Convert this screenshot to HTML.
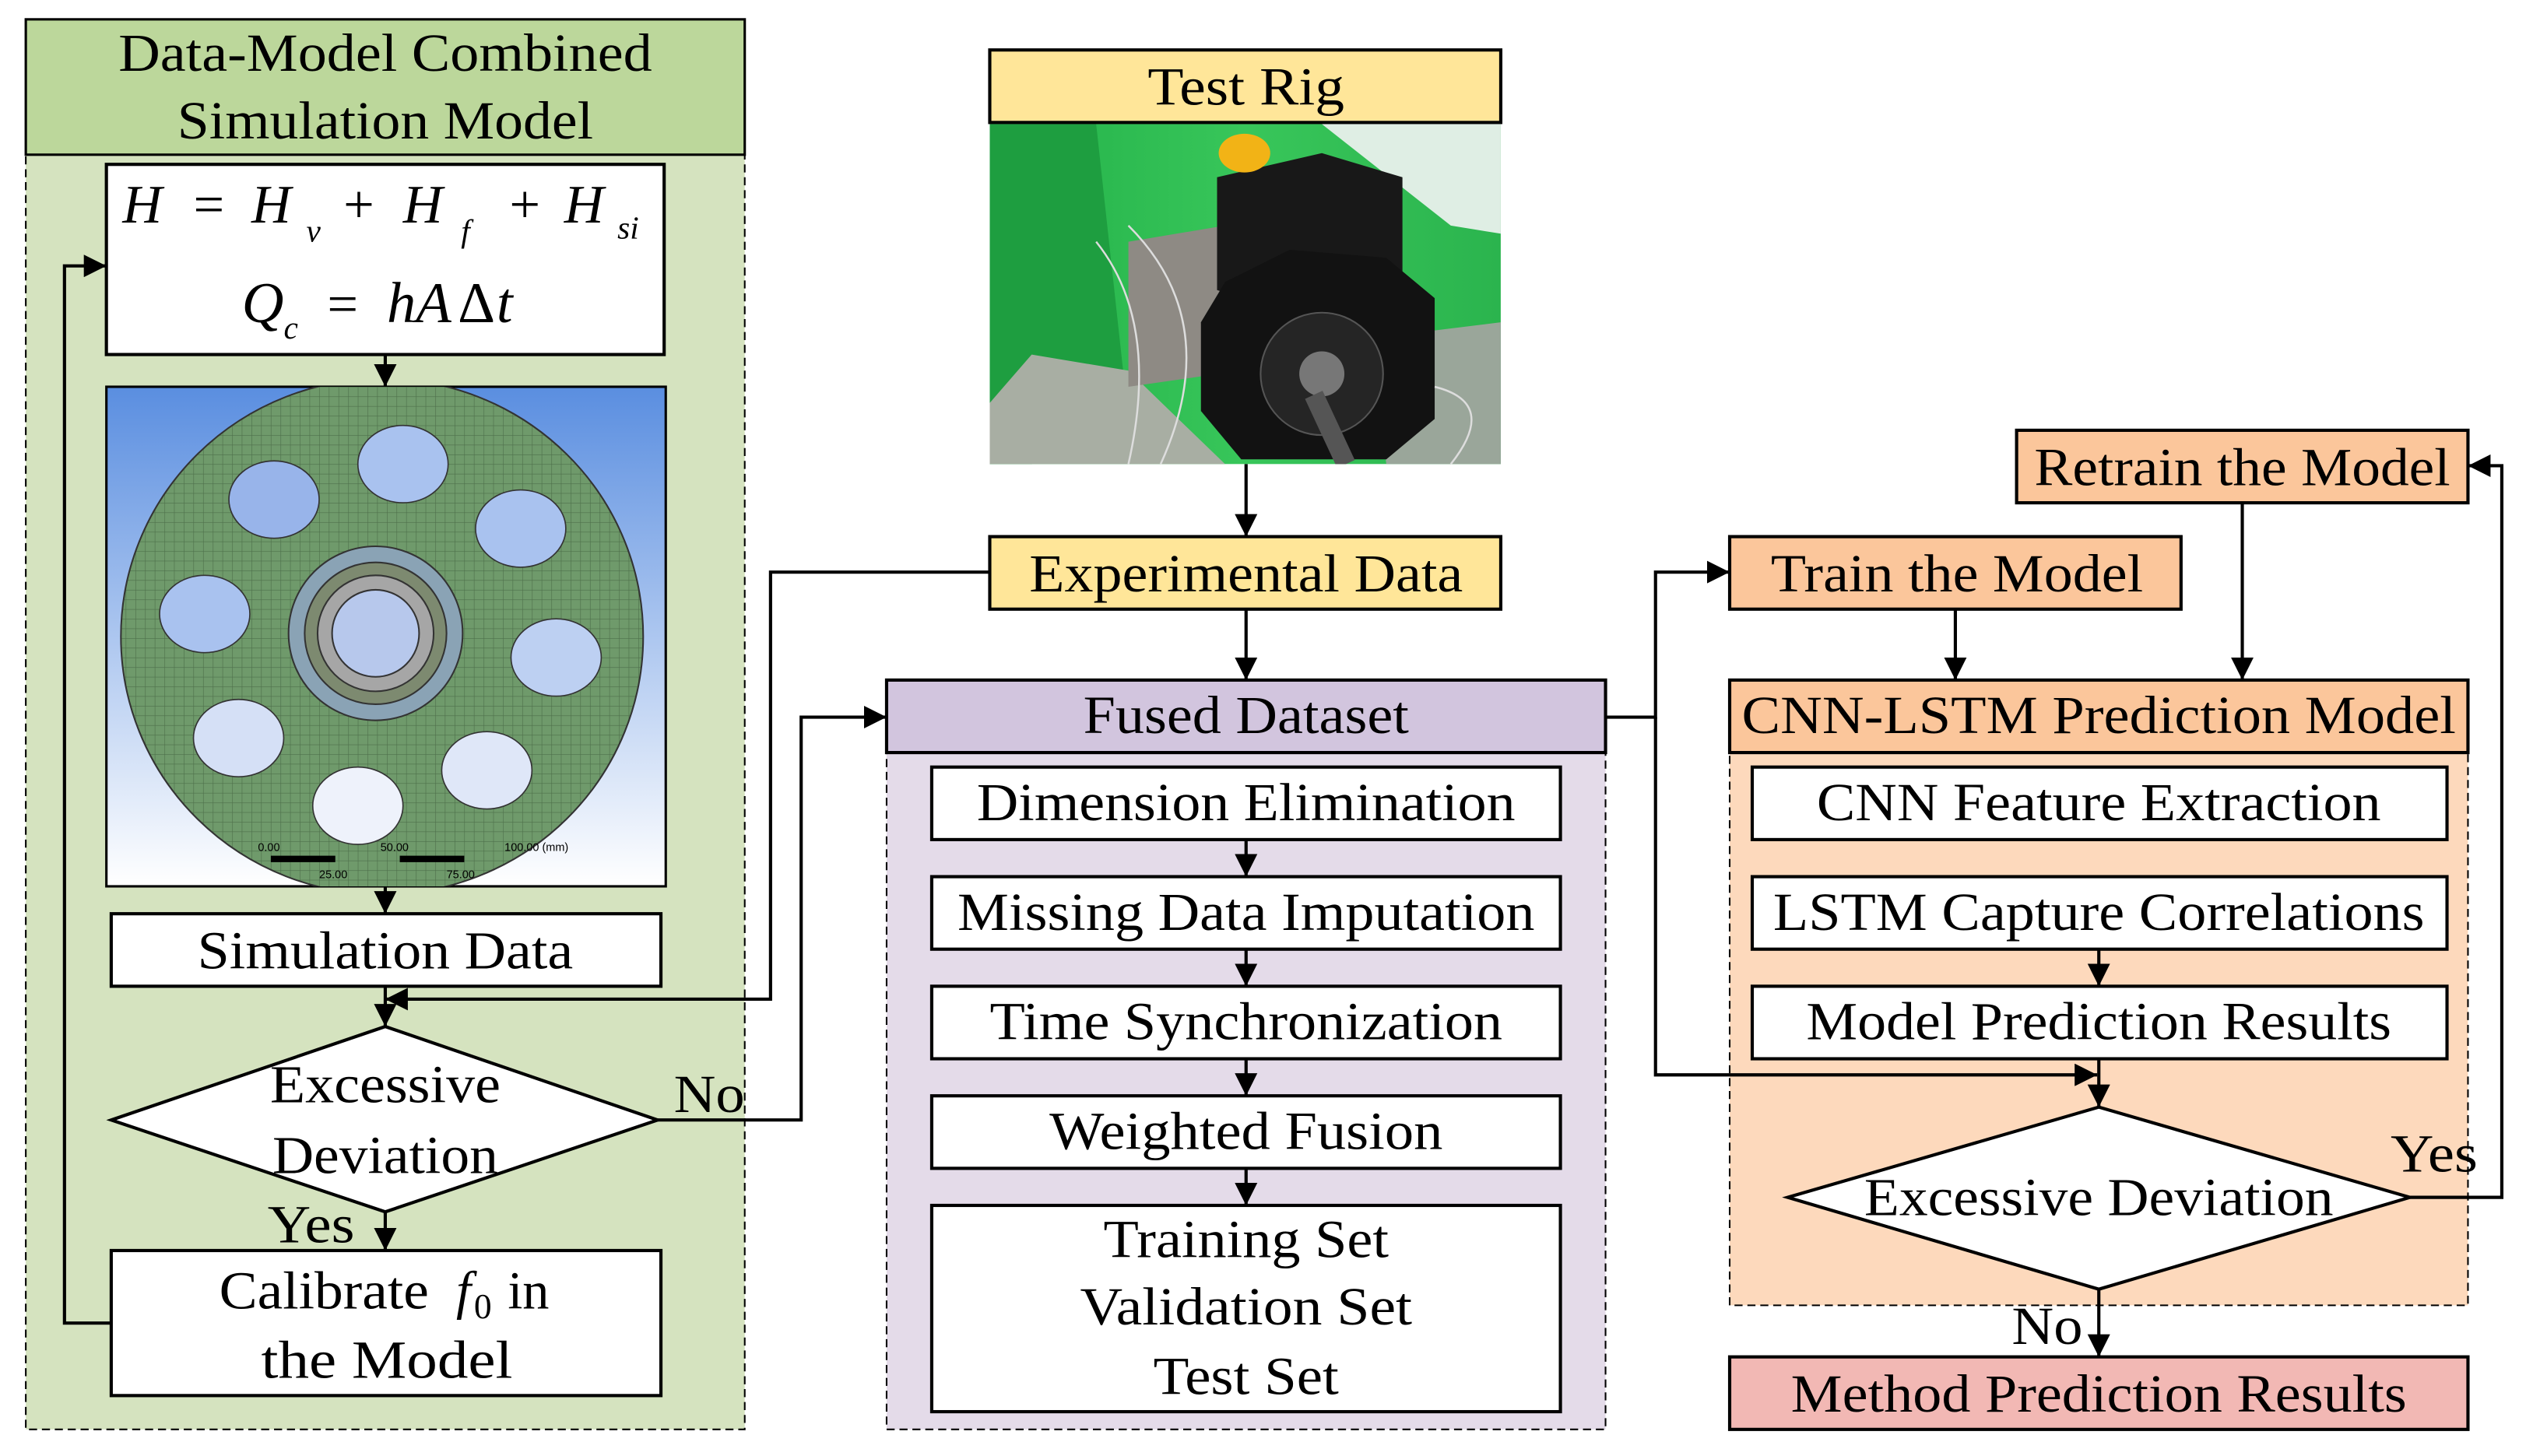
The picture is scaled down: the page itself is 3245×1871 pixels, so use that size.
<!DOCTYPE html>
<html><head><meta charset="utf-8"><style>
html,body{margin:0;padding:0;background:#fff;}
svg{display:block;}
text{font-family:"Liberation Serif",serif;font-size:33px;fill:#000;}
</style></head><body>
<svg width="3245" height="1871" viewBox="0 0 1567 903.5" xmlns="http://www.w3.org/2000/svg">
<defs>
<marker id="a" markerUnits="userSpaceOnUse" markerWidth="14" markerHeight="14" refX="12" refY="6" orient="auto" viewBox="0 0 12 12"><path d="M0,0 L12,6 L0,12 z" fill="#000"/></marker>
<linearGradient id="sky" x1="0" y1="0" x2="0" y2="1"><stop offset="0" stop-color="#5a8ee0"/><stop offset="1" stop-color="#ffffff"/></linearGradient>
<linearGradient id="grn" x1="0" y1="0" x2="1" y2="0"><stop offset="0" stop-color="#22b048"/><stop offset="0.5" stop-color="#38c65a"/><stop offset="1" stop-color="#2bb44e"/></linearGradient>
<pattern id="mesh" width="6" height="6" patternUnits="userSpaceOnUse"><rect width="6" height="6" fill="#6f9a6b"/><path d="M0,0H6M0,0V6" stroke="#4d6f4a" stroke-width="0.6"/></pattern>
</defs>

<!-- LEFT PANEL -->
<rect x="16" y="12" width="446" height="875" fill="#d5e3bf" stroke="#000" stroke-width="1" stroke-dasharray="5,3"/>
<rect x="16" y="12" width="446" height="84" fill="#bcd79b" stroke="#000" stroke-width="1.5"/>
<text x="239" y="44" text-anchor="middle" textLength="331" lengthAdjust="spacingAndGlyphs">Data-Model Combined</text>
<text x="239" y="86" text-anchor="middle" textLength="258" lengthAdjust="spacingAndGlyphs">Simulation Model</text>

<rect x="66" y="102" width="346" height="118" fill="#fff" stroke="#000" stroke-width="2"/>
<text x="76" y="138" style="font-style:italic;font-size:34px">H</text>
<text x="120" y="138" style="font-size:34px">=</text>
<text x="156" y="138" style="font-style:italic;font-size:34px">H</text>
<text x="190" y="150" style="font-style:italic;font-size:20px">v</text>
<text x="213" y="138" style="font-size:34px">+</text>
<text x="250" y="138" style="font-style:italic;font-size:34px">H</text>
<text x="286" y="150" style="font-style:italic;font-size:20px">f</text>
<text x="316" y="138" style="font-size:34px">+</text>
<text x="350" y="138" style="font-style:italic;font-size:34px">H</text>
<text x="383" y="148" style="font-style:italic;font-size:20px">si</text>
<text x="150" y="200" style="font-style:italic;font-size:36px">Q</text>
<text x="176" y="210" style="font-style:italic;font-size:20px">c</text>
<text x="203" y="200" style="font-size:34px">=</text>
<text x="240" y="200" style="font-style:italic;font-size:36px">hA</text>
<text x="284" y="200" style="font-size:36px">Δ</text>
<text x="308" y="200" style="font-style:italic;font-size:36px">t</text>

<line x1="239" y1="220" x2="239" y2="240" stroke="#000" stroke-width="2" marker-end="url(#a)"/>
<rect x="66" y="240" width="347" height="310" fill="url(#sky)" stroke="#000" stroke-width="1.5"/>
<clipPath id="c1"><rect x="66" y="240" width="347" height="310"/></clipPath>
<g clip-path="url(#c1)">
<ellipse cx="237" cy="395" rx="162" ry="160" fill="url(#mesh)" stroke="#333" stroke-width="1"/>
<g fill="#a9c2ef" stroke="#333" stroke-width="0.8">
<ellipse cx="250" cy="288" rx="28" ry="24"/><ellipse cx="170" cy="310" rx="28" ry="24" fill="#98b4ea"/>
<ellipse cx="323" cy="328" rx="28" ry="24"/><ellipse cx="127" cy="381" rx="28" ry="24"/>
<ellipse cx="345" cy="408" rx="28" ry="24" fill="#bdd0f2"/><ellipse cx="148" cy="458" rx="28" ry="24" fill="#d5e0f6"/>
<ellipse cx="302" cy="478" rx="28" ry="24" fill="#dfe7f8"/><ellipse cx="222" cy="500" rx="28" ry="24" fill="#eef2fb"/>
</g>
<circle cx="233" cy="393" r="54" fill="#8aa3b5" stroke="#333"/>
<circle cx="233" cy="393" r="44" fill="#7d8a70" stroke="#333"/>
<circle cx="233" cy="393" r="36" fill="#a6a6a6" stroke="#333"/>
<circle cx="233" cy="393" r="27" fill="#b7c8ec" stroke="#333"/>
<text x="160" y="528" style="font-family:'Liberation Sans',sans-serif;font-size:7px">0.00</text>
<text x="236" y="528" style="font-family:'Liberation Sans',sans-serif;font-size:7px">50.00</text>
<text x="313" y="528" style="font-family:'Liberation Sans',sans-serif;font-size:7px">100.00 (mm)</text>
<rect x="168" y="531" width="40" height="4" fill="#000"/><rect x="248" y="531" width="40" height="4" fill="#000"/>
<text x="198" y="545" style="font-family:'Liberation Sans',sans-serif;font-size:7px">25.00</text>
<text x="277" y="545" style="font-family:'Liberation Sans',sans-serif;font-size:7px">75.00</text>
</g>
<line x1="239" y1="550" x2="239" y2="567" stroke="#000" stroke-width="2" marker-end="url(#a)"/>
<rect x="69" y="567" width="341" height="45" fill="#fff" stroke="#000" stroke-width="2"/>
<text x="239" y="601" text-anchor="middle" textLength="233" lengthAdjust="spacingAndGlyphs">Simulation Data</text>
<line x1="239" y1="612" x2="239" y2="637" stroke="#000" stroke-width="2" marker-end="url(#a)"/>
<polygon points="69,695 239,637 408,695 239,752" fill="#fff" stroke="#000" stroke-width="2"/>
<text x="239" y="684" text-anchor="middle" textLength="143" lengthAdjust="spacingAndGlyphs">Excessive</text>
<text x="239" y="728" text-anchor="middle" textLength="140" lengthAdjust="spacingAndGlyphs">Deviation</text>
<text x="166" y="771" textLength="54" lengthAdjust="spacingAndGlyphs">Yes</text>
<line x1="239" y1="752" x2="239" y2="776" stroke="#000" stroke-width="2" marker-end="url(#a)"/>
<rect x="69" y="776" width="341" height="90" fill="#fff" stroke="#000" stroke-width="2"/>
<text x="136" y="812" textLength="130" lengthAdjust="spacingAndGlyphs">Calibrate</text>
<text x="283" y="812" style="font-style:italic">f</text>
<text x="294" y="818" style="font-size:22px">0</text>
<text x="315" y="812">in</text>
<text x="240" y="855" text-anchor="middle" textLength="156" lengthAdjust="spacingAndGlyphs">the  Model</text>
<polyline points="69,821 40,821 40,165 66,165" fill="none" stroke="#000" stroke-width="2" marker-end="url(#a)"/>
<text x="418" y="690" textLength="44" lengthAdjust="spacingAndGlyphs">No</text>
<polyline points="408,695 497,695 497,445 550,445" fill="none" stroke="#000" stroke-width="2" marker-end="url(#a)"/>

<!-- MIDDLE -->
<rect x="614" y="31" width="317" height="45" fill="#ffe699" stroke="#000" stroke-width="2"/>
<text x="773" y="65" text-anchor="middle" textLength="122" lengthAdjust="spacingAndGlyphs">Test Rig</text>
<clipPath id="c2"><rect x="614" y="77" width="317" height="211"/></clipPath>
<g clip-path="url(#c2)">
<rect x="614" y="77" width="317" height="211" fill="url(#grn)"/>
<polygon points="820,77 931,77 931,145 900,140" fill="#dfeee4"/>
<polygon points="614,77 680,77 700,260 640,288 614,288" fill="#1e9e40"/>
<polygon points="640,220 700,230 760,288 614,288 614,250" fill="#a8aea3"/>
<polygon points="850,210 931,200 931,288 860,288" fill="#9aa69a"/>
<polygon points="700,150 760,140 770,230 700,240" fill="#8e8a84"/>
<polygon points="755,110 820,95 870,110 870,180 820,200 755,180" fill="#181818"/>
<polygon points="760,175 800,155 860,160 890,185 890,260 860,285 770,285 745,255 745,200" fill="#121212"/>
<circle cx="820" cy="232" r="38" fill="#252525" stroke="#555"/>
<circle cx="820" cy="232" r="14" fill="#777"/>
<ellipse cx="772" cy="95" rx="16" ry="12" fill="#f2b316"/>
<line x1="815" y1="245" x2="835" y2="288" stroke="#555" stroke-width="12"/>
<path d="M680,150 Q720,200 700,288 M700,140 Q760,200 720,288 M890,240 Q930,250 900,288" stroke="#ddd" stroke-width="1.2" fill="none"/>
</g>
<line x1="773" y1="288" x2="773" y2="333" stroke="#000" stroke-width="2" marker-end="url(#a)"/>
<rect x="614" y="333" width="317" height="45" fill="#ffe699" stroke="#000" stroke-width="2"/>
<text x="773" y="367" text-anchor="middle" textLength="269" lengthAdjust="spacingAndGlyphs">Experimental Data</text>
<polyline points="614,355 478,355 478,620 239,620" fill="none" stroke="#000" stroke-width="2" marker-end="url(#a)"/>
<line x1="773" y1="378" x2="773" y2="422" stroke="#000" stroke-width="2" marker-end="url(#a)"/>

<rect x="550" y="422" width="446" height="465" fill="#e4dbe9" stroke="#000" stroke-width="1" stroke-dasharray="5,3"/>
<rect x="550" y="422" width="446" height="45" fill="#d2c5de" stroke="#000" stroke-width="2"/>
<text x="773" y="455" text-anchor="middle" textLength="202" lengthAdjust="spacingAndGlyphs">Fused Dataset</text>
<g fill="#fff" stroke="#000" stroke-width="2">
<rect x="578" y="476" width="390" height="45"/><rect x="578" y="544" width="390" height="45"/>
<rect x="578" y="612" width="390" height="45"/><rect x="578" y="680" width="390" height="45"/>
<rect x="578" y="748" width="390" height="128"/>
</g>
<g stroke="#000" stroke-width="2">
<line x1="773" y1="521" x2="773" y2="544" marker-end="url(#a)"/><line x1="773" y1="589" x2="773" y2="612" marker-end="url(#a)"/>
<line x1="773" y1="657" x2="773" y2="680" marker-end="url(#a)"/><line x1="773" y1="725" x2="773" y2="748" marker-end="url(#a)"/>
</g>
<text x="773" y="509" text-anchor="middle" textLength="334" lengthAdjust="spacingAndGlyphs">Dimension Elimination</text>
<text x="773" y="577" text-anchor="middle" textLength="358" lengthAdjust="spacingAndGlyphs">Missing Data Imputation</text>
<text x="773" y="645" text-anchor="middle" textLength="318" lengthAdjust="spacingAndGlyphs">Time Synchronization</text>
<text x="773" y="713" text-anchor="middle" textLength="244" lengthAdjust="spacingAndGlyphs">Weighted Fusion</text>
<text x="773" y="780" text-anchor="middle" textLength="177" lengthAdjust="spacingAndGlyphs">Training Set</text>
<text x="773" y="822" text-anchor="middle" textLength="206" lengthAdjust="spacingAndGlyphs">Validation Set</text>
<text x="773" y="865" text-anchor="middle" textLength="115" lengthAdjust="spacingAndGlyphs">Test Set</text>

<!-- RIGHT -->
<polyline points="996,445 1027,445 1027,355 1073,355" fill="none" stroke="#000" stroke-width="2" marker-end="url(#a)"/>
<rect x="1073" y="422" width="458" height="388" fill="#fdd9bc" stroke="#000" stroke-width="1" stroke-dasharray="5,3"/>
<polyline points="1027,445 1027,667 1301,667" fill="none" stroke="#000" stroke-width="2" marker-end="url(#a)"/>
<rect x="1073" y="333" width="280" height="45" fill="#fbc69b" stroke="#000" stroke-width="2"/>
<text x="1214" y="367" text-anchor="middle" textLength="231" lengthAdjust="spacingAndGlyphs">Train the Model</text>
<rect x="1251" y="267" width="280" height="45" fill="#fbc69b" stroke="#000" stroke-width="2"/>
<text x="1391" y="301" text-anchor="middle" textLength="258" lengthAdjust="spacingAndGlyphs">Retrain the Model</text>
<line x1="1213" y1="378" x2="1213" y2="422" stroke="#000" stroke-width="2" marker-end="url(#a)"/>
<line x1="1391" y1="312" x2="1391" y2="422" stroke="#000" stroke-width="2" marker-end="url(#a)"/>
<rect x="1073" y="422" width="458" height="45" fill="#fbc69b" stroke="#000" stroke-width="2"/>
<text x="1302" y="455" text-anchor="middle" textLength="443" lengthAdjust="spacingAndGlyphs">CNN-LSTM Prediction Model</text>
<g fill="#fff" stroke="#000" stroke-width="2">
<rect x="1087" y="476" width="431" height="45"/><rect x="1087" y="544" width="431" height="45"/><rect x="1087" y="612" width="431" height="45"/>
</g>
<g stroke="#000" stroke-width="2">
<line x1="1302" y1="589" x2="1302" y2="612" marker-end="url(#a)"/>
<line x1="1302" y1="657" x2="1302" y2="687" marker-end="url(#a)"/>
</g>
<text x="1302" y="509" text-anchor="middle" textLength="350" lengthAdjust="spacingAndGlyphs">CNN Feature Extraction</text>
<text x="1302" y="577" text-anchor="middle" textLength="404" lengthAdjust="spacingAndGlyphs">LSTM Capture Correlations</text>
<text x="1302" y="645" text-anchor="middle" textLength="363" lengthAdjust="spacingAndGlyphs">Model Prediction Results</text>
<polygon points="1109,743 1302,687 1495,743 1302,800" fill="#fff" stroke="#000" stroke-width="2"/>
<text x="1302" y="754" text-anchor="middle" textLength="291" lengthAdjust="spacingAndGlyphs">Excessive Deviation</text>
<text x="1483" y="727" textLength="54" lengthAdjust="spacingAndGlyphs">Yes</text>
<polyline points="1495,743 1552,743 1552,289 1531,289" fill="none" stroke="#000" stroke-width="2" marker-end="url(#a)"/>
<line x1="1302" y1="800" x2="1302" y2="842" stroke="#000" stroke-width="2" marker-end="url(#a)"/>
<text x="1248" y="834" textLength="44" lengthAdjust="spacingAndGlyphs">No</text>
<rect x="1073" y="842" width="458" height="45" fill="#f2b8b4" stroke="#000" stroke-width="2"/>
<text x="1302" y="876" text-anchor="middle" textLength="382" lengthAdjust="spacingAndGlyphs">Method Prediction Results</text>
</svg>
</body></html>
